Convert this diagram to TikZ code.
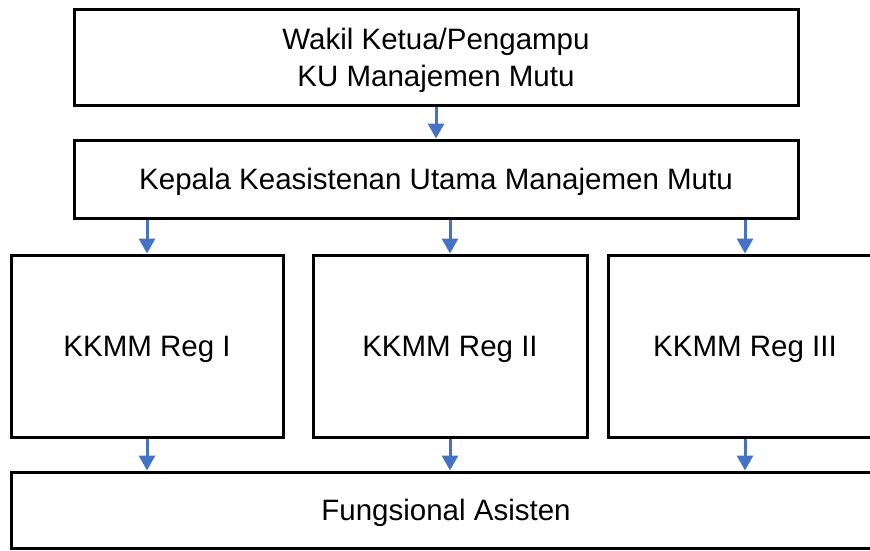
\documentclass[tikz,border=0pt]{standalone}
\usepackage{fontspec}
\setmainfont{Liberation Sans}
\usetikzlibrary{arrows.meta,positioning,calc}
\definecolor{arrowblue}{HTML}{4472C4}
\tikzstyle{box} = [rectangle, draw, line width=3pt, inner sep=0pt, align=center, text depth=0pt, font=\fontsize{29.5}{37}\selectfont]
\tikzstyle{arrow} = [draw=arrowblue, line width=3pt, -{Triangle[width=16pt,length=15pt]}]

\begin{document}
\begin{tikzpicture}[x=1pt,y=-1pt]
    \useasboundingbox (0,0) rectangle (870,550);
    \clip (0,0) rectangle (870,550);
    \node[box, minimum width=724pt, minimum height=96pt] (wakil) at (436,57) {Wakil Ketua/Pengampu\\KU Manajemen Mutu};
    \node[box, minimum width=724pt, minimum height=78pt] (kepala) at (436,179) {Kepala Keasistenan Utama Manajemen Mutu};
    \node[box, minimum width=870pt, minimum height=76pt] (fungsional) at (446,510) {Fungsional Asisten};
    \draw[arrow] (wakil.south) -- (kepala.north);
    \foreach \i/\x/\w/\t in {1/147/272/KKMM Reg I, 2/450/274/KKMM Reg II, 3/745/274/KKMM Reg III} {
        \node[box, minimum width=\w pt, minimum height=182pt] (reg\i) at (\x,346) {\t};
        \draw[arrow] (kepala.south -| reg\i.north) -- (reg\i.north);
        \draw[arrow] (reg\i.south) -- (reg\i.south |- fungsional.north);
    }
\end{tikzpicture}
\end{document}
